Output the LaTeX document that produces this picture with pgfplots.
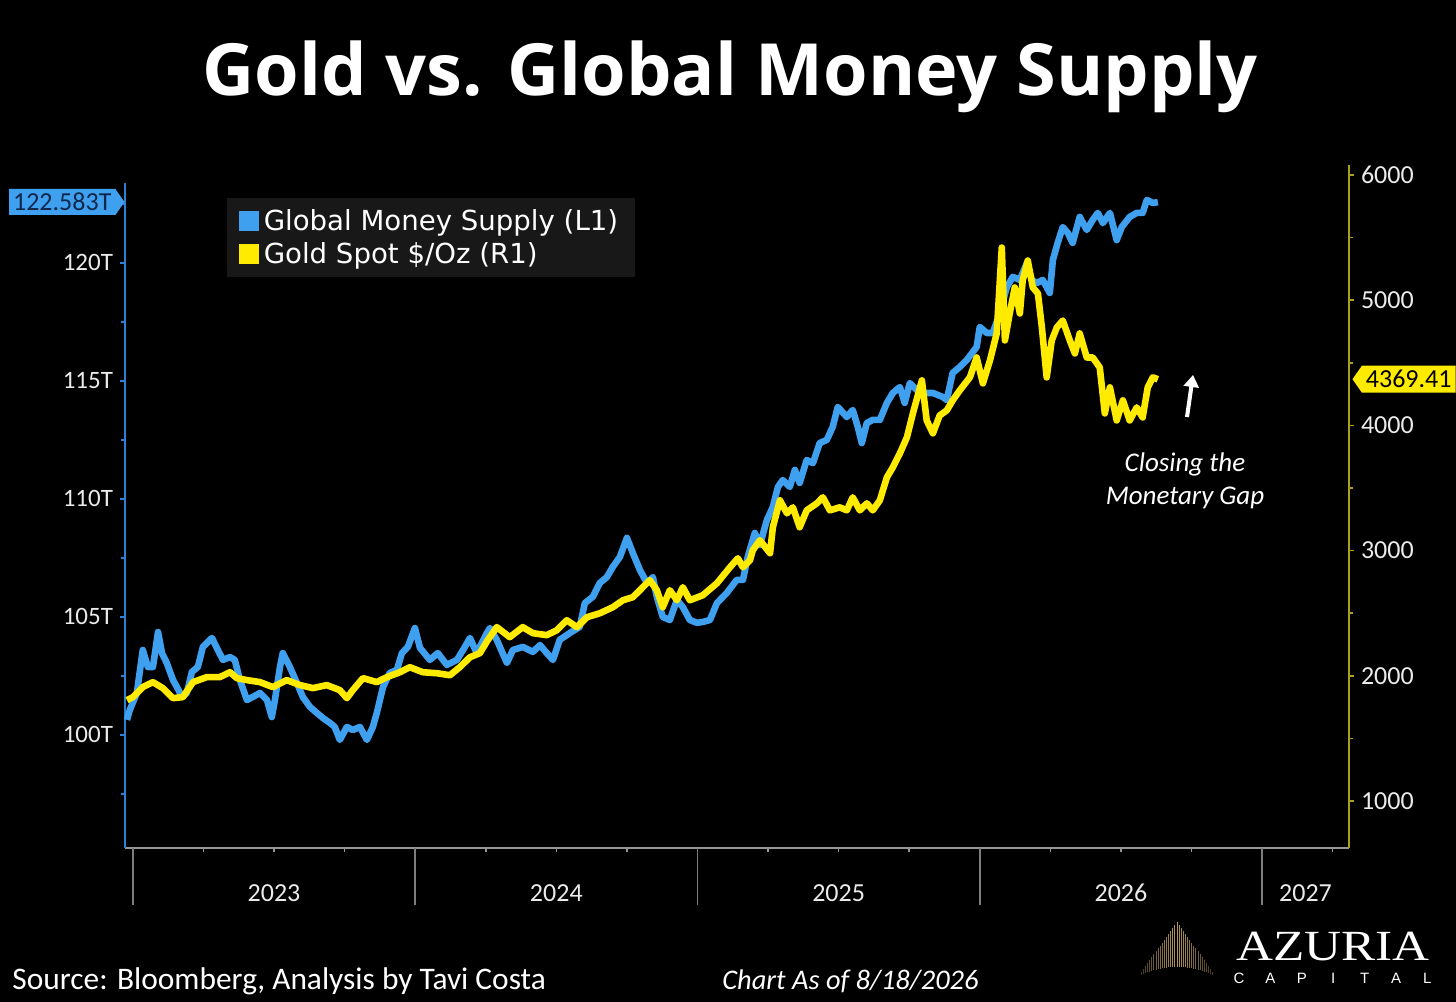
\documentclass[border=0pt]{standalone}
\usepackage{fontspec}
\setmainfont{Carlito}
\newfontfamily\titlefont{Open Sans}
\newfontfamily\legfont{DejaVu Sans}
\newfontfamily\logofont{Liberation Serif}
\newfontfamily\logosans{Liberation Sans}
\usepackage{pgfplots}
\pgfplotsset{compat=1.18}
\usetikzlibrary{shapes.symbols,arrows.meta}

\definecolor{gblue}{RGB}{64,160,240}
\definecolor{gyellow}{RGB}{255,235,0}
\definecolor{laxis}{RGB}{45,130,215}
\definecolor{raxis}{RGB}{170,160,30}
\definecolor{baxis}{RGB}{150,150,150}
\definecolor{sepgray}{RGB}{125,125,125}
\definecolor{legbg}{RGB}{24,24,24}
\definecolor{ticktext}{RGB}{235,235,235}
\definecolor{navy}{RGB}{15,40,75}
\definecolor{logogold}{RGB}{190,160,95}

\begin{document}
\begin{tikzpicture}
\fill[black] (0,0) rectangle (728bp,-501bp);
\useasboundingbox (0,0) rectangle (728bp,-501bp);

\node[anchor=base, text=white, font=\titlefont\bfseries\fontsize{36bp}{40bp}\selectfont] at (365bp,-47.5bp) {Gold vs. Global Money Supply};

% ---------- left axis: Global Money Supply ----------
\begin{axis}[
  at={(62.5bp,-424bp)}, anchor=south west, scale only axis,
  width=612bp, height=341.5bp,
  xmin=2022.972, xmax=2027.308,
  ymin=95.21, ymax=124.15,
  axis x line*=bottom, axis y line*=left,
  x axis line style={draw=baxis, line width=1bp, -},
  y axis line style={draw=laxis, line width=1bp, -, shorten >=9bp},
  tick align=outside, major tick length=2.5bp, minor tick length=2bp,
  xtick=\empty,
  extra x ticks={2023.5,2024.5,2025.5,2026.5,2027.154},
  extra x tick labels={2023,2024,2025,2026,2027},
  extra x tick style={major tick length=0pt},
  xtick style={draw=baxis, line width=0.8bp},
  xticklabel style={font=\fontsize{13bp}{15bp}\selectfont, text=ticktext, anchor=center, yshift=-22.5bp},
  ytick={100,105,110,115,120},
  yticklabels={100T,105T,110T,115T,120T},
  minor ytick={97.5,102.5,107.5,112.5,117.5,122.5},
  ytick style={draw=laxis, line width=0.8bp},
  yticklabel style={font=\fontsize{12.5bp}{14bp}\selectfont, text=ticktext},
  clip=false,
]
\addplot[gblue, line width=3.3bp, line join=round] coordinates {
(2022.979,100.64) (2022.989,101.06) (2023.014,101.78) (2023.035,103.60) (2023.053,102.88)
(2023.071,102.88) (2023.089,104.36) (2023.103,103.47) (2023.120,103.05) (2023.142,102.33)
(2023.156,102.03) (2023.174,101.61) (2023.191,101.78) (2023.209,102.67) (2023.230,102.88)
(2023.248,103.73) (2023.280,104.11) (2023.301,103.60) (2023.319,103.18) (2023.344,103.30)
(2023.361,103.18) (2023.379,102.33) (2023.404,101.48) (2023.425,101.61) (2023.450,101.78)
(2023.475,101.48) (2023.492,100.76) (2023.503,101.48) (2023.521,102.88) (2023.531,103.47)
(2023.556,102.88) (2023.581,102.20) (2023.602,101.61) (2023.627,101.19) (2023.652,100.93)
(2023.673,100.72) (2023.698,100.51) (2023.715,100.34) (2023.733,99.79) (2023.758,100.34)
(2023.779,100.21) (2023.804,100.34) (2023.829,99.79) (2023.850,100.34) (2023.864,100.93)
(2023.886,102.03) (2023.910,102.63) (2023.935,102.75) (2023.953,103.47) (2023.974,103.73)
(2023.999,104.53) (2024.017,103.69) (2024.052,103.18) (2024.080,103.47) (2024.112,102.97)
(2024.148,103.18) (2024.176,103.73) (2024.194,104.11) (2024.218,103.47) (2024.254,104.32)
(2024.265,104.53) (2024.289,104.03) (2024.325,103.05) (2024.346,103.60) (2024.381,103.73)
(2024.417,103.52) (2024.442,103.81) (2024.466,103.47) (2024.488,103.18) (2024.512,104.03)
(2024.548,104.32) (2024.583,104.58) (2024.601,105.59) (2024.629,105.85) (2024.654,106.44)
(2024.679,106.69) (2024.700,107.12) (2024.725,107.54) (2024.750,108.35) (2024.771,107.71)
(2024.796,106.99) (2024.821,106.44) (2024.842,106.69) (2024.856,105.85) (2024.877,105.00)
(2024.902,104.87) (2024.927,105.72) (2024.948,105.42) (2024.973,104.87) (2024.998,104.75)
(2025.019,104.79) (2025.044,104.87) (2025.069,105.59) (2025.104,106.02) (2025.139,106.57)
(2025.161,106.57) (2025.178,107.54) (2025.203,108.56) (2025.221,108.05) (2025.246,109.11)
(2025.267,109.66) (2025.285,110.51) (2025.302,110.80) (2025.327,110.51) (2025.345,111.23)
(2025.362,110.68) (2025.387,111.65) (2025.409,111.52) (2025.433,112.37) (2025.458,112.50)
(2025.479,113.05) (2025.497,113.90) (2025.529,113.47) (2025.550,113.77) (2025.568,113.05)
(2025.582,112.37) (2025.600,113.22) (2025.621,113.35) (2025.646,113.35) (2025.671,114.07)
(2025.692,114.49) (2025.717,114.74) (2025.734,114.07) (2025.752,114.91) (2025.777,114.62)
(2025.798,114.49) (2025.834,114.49) (2025.869,114.32) (2025.883,114.19) (2025.904,115.34)
(2025.929,115.59) (2025.954,115.89) (2025.989,116.44) (2026.000,117.29) (2026.025,117.03)
(2026.046,117.03) (2026.071,117.88) (2026.096,118.98) (2026.117,119.41) (2026.142,119.28)
(2026.167,120.00) (2026.184,119.28) (2026.202,119.15) (2026.223,119.28) (2026.248,118.73)
(2026.259,120.13) (2026.276,120.85) (2026.294,121.52) (2026.312,121.27) (2026.329,120.85)
(2026.354,121.95) (2026.379,121.40) (2026.400,121.82) (2026.418,122.12) (2026.436,121.69)
(2026.461,122.12) (2026.485,120.97) (2026.503,121.52) (2026.531,121.95) (2026.556,122.12)
(2026.577,122.12) (2026.592,122.67) (2026.613,122.54) (2026.631,122.58)
};
\pgfplotsinvokeforeach{2023.25,2023.5,2023.75,2024.25,2024.5,2024.75,2025.25,2025.5,2025.75,2026.25,2026.5,2026.75,2027.25}{
  \draw[baxis, line width=0.8bp] (axis cs:#1,95.21) -- ([yshift=-2.2bp]axis cs:#1,95.21);
}
\pgfplotsinvokeforeach{2023,2024,2025,2026,2027}{
  \draw[sepgray, line width=0.8bp] (axis cs:#1,95.21) -- ([yshift=-28.5bp]axis cs:#1,95.21);
}
\node[signal, signal to=east, signal pointer angle=110, fill=gblue, text=navy,
      font=\fontsize{13bp}{14bp}\selectfont, inner xsep=2bp, inner ysep=1bp,
      minimum height=13bp, anchor=east] at (axis cs:2022.972,122.583) {122.583T};
\end{axis}

% ---------- right axis: Gold ----------
\begin{axis}[
  at={(62.5bp,-424bp)}, anchor=south west, scale only axis,
  width=612bp, height=341.5bp,
  xmin=2022.972, xmax=2027.308,
  ymin=625, ymax=6080,
  axis x line=none, axis y line*=right,
  y axis line style={draw=raxis, line width=1bp, -},
  tick align=outside, major tick length=2.5bp, minor tick length=2bp,
  ytick={1000,2000,3000,4000,5000,6000},
  yticklabels={1000,2000,3000,4000,5000,6000},
  minor ytick={1500,2500,3500,4500,5500},
  ytick style={draw=raxis, line width=0.8bp},
  yticklabel style={font=\fontsize{13bp}{14bp}\selectfont, text=ticktext},
  clip=false,
  legend cell align=left,
  legend image code/.code={\fill[#1, draw=none] (0bp,-5bp) rectangle (10bp,5bp);},
  legend style={at={(0.0833,0.952)}, anchor=north west, fill=legbg, draw=none,
    text=white, font=\legfont\fontsize{13.8bp}{16bp}\selectfont,
    inner xsep=6bp, inner ysep=5bp, row sep=3.5bp,
    nodes={inner ysep=0.5bp, inner xsep=2.2bp}},
]
\addlegendimage{gblue}
\addlegendentry{Global Money Supply (L1)}
\addplot[gyellow, line width=3.3bp, line join=round] coordinates {
(2022.979,1806) (2023.000,1830) (2023.035,1910) (2023.071,1950) (2023.106,1902)
(2023.142,1822) (2023.177,1830) (2023.213,1950) (2023.262,1990) (2023.308,1990)
(2023.344,2029) (2023.368,1982) (2023.404,1966) (2023.450,1950) (2023.496,1910)
(2023.545,1966) (2023.592,1926) (2023.638,1902) (2023.687,1926) (2023.733,1886)
(2023.758,1822) (2023.779,1886) (2023.815,1982) (2023.864,1950) (2023.900,1990)
(2023.946,2029) (2023.981,2069) (2024.027,2029) (2024.077,2021) (2024.123,2005)
(2024.158,2069) (2024.194,2149) (2024.229,2181) (2024.257,2285) (2024.289,2389)
(2024.335,2309) (2024.381,2389) (2024.417,2341) (2024.466,2325) (2024.502,2365)
(2024.537,2444) (2024.573,2389) (2024.608,2468) (2024.654,2500) (2024.700,2548)
(2024.736,2604) (2024.771,2628) (2024.796,2684) (2024.831,2764) (2024.856,2684)
(2024.877,2548) (2024.902,2684) (2024.927,2604) (2024.948,2708) (2024.973,2604)
(2025.019,2644) (2025.069,2740) (2025.115,2867) (2025.143,2939) (2025.161,2867)
(2025.186,2923) (2025.196,3003) (2025.221,3083) (2025.257,2979) (2025.267,3187)
(2025.292,3402) (2025.317,3298) (2025.338,3346) (2025.362,3187) (2025.387,3322)
(2025.423,3378) (2025.444,3426) (2025.469,3322) (2025.504,3346) (2025.529,3322)
(2025.550,3426) (2025.575,3322) (2025.600,3378) (2025.621,3322) (2025.646,3402)
(2025.671,3586) (2025.692,3665) (2025.717,3777) (2025.742,3905) (2025.763,4096)
(2025.795,4360) (2025.812,4040) (2025.834,3937) (2025.858,4080) (2025.883,4120)
(2025.904,4200) (2025.929,4280) (2025.965,4384) (2025.989,4543) (2026.011,4336)
(2026.036,4519) (2026.060,4735) (2026.078,5421) (2026.089,4679) (2026.106,4894)
(2026.124,5102) (2026.142,4894) (2026.152,5158) (2026.170,5317) (2026.188,5102)
(2026.206,5054) (2026.220,4783) (2026.237,4384) (2026.255,4679) (2026.273,4783)
(2026.294,4838) (2026.319,4679) (2026.337,4575) (2026.354,4735) (2026.379,4543)
(2026.400,4543) (2026.425,4463) (2026.443,4096) (2026.461,4304) (2026.485,4040)
(2026.507,4200) (2026.531,4040) (2026.556,4144) (2026.577,4064) (2026.595,4304)
(2026.613,4384) (2026.631,4369)
};
\addlegendentry{Gold Spot \$/Oz (R1)}
\node[signal, signal to=west, signal pointer angle=110, fill=gyellow, text=black,
      font=\fontsize{13bp}{14bp}\selectfont, inner xsep=2bp, inner ysep=1bp,
      minimum height=13.5bp, anchor=west, xshift=1.5bp] at (axis cs:2027.308,4369.41) {4369.41};
\end{axis}

% ---------- annotation ----------
\draw[white, line width=2bp, -{Triangle[length=6bp,width=7.5bp]}] (593.5bp,-208.5bp) -- (596.5bp,-187.5bp);
\node[text=white, font=\itshape\fontsize{13.5bp}{16bp}\selectfont] at (592.5bp,-232bp) {Closing the};
\node[text=white, font=\itshape\fontsize{13.5bp}{16bp}\selectfont] at (592.5bp,-249bp) {Monetary Gap};

% ---------- footer ----------
\node[anchor=base west, text=white, inner sep=0pt, font=\fontsize{15.7bp}{17bp}\selectfont] at (6bp,-494.5bp) {Source: Bloomberg, Analysis by Tavi Costa};
\node[anchor=base west, text=white, inner sep=0pt, font=\itshape\fontsize{14.2bp}{17bp}\selectfont] at (361bp,-494.5bp) {Chart As of 8/18/2026};

% ---------- logo ----------
\foreach \i in {-17,...,17}{
  \pgfmathsetmacro\xx{588.5+1.05*\i}
  \pgfmathsetmacro\yt{-(461+abs(\i)*1.47)}
  \pgfmathsetmacro\yb{-(487.5-(1-(\i)*(\i)/289)*4)}
  \pgfmathsetmacro\op{0.95-abs(\i)*0.035}
  \draw[logogold, line width=0.45bp, opacity=\op] (\xx bp,\yt bp) -- (\xx bp,\yb bp);
}
\node[anchor=base west, text=white, inner sep=0pt, font=\logofont\fontsize{21.5bp}{23bp}\selectfont] at (618bp,-480bp) {\scalebox{1.19}[1]{AZURIA}};
\foreach \c [count=\k from 0] in {C,A,P,I,T,A,L}{
  \node[anchor=base, text=white, inner sep=0pt, font=\logosans\fontsize{7.5bp}{8bp}\selectfont] at (619.5bp+\k*15.7bp,-491.5bp) {\c};
}
\end{tikzpicture}
\end{document}
